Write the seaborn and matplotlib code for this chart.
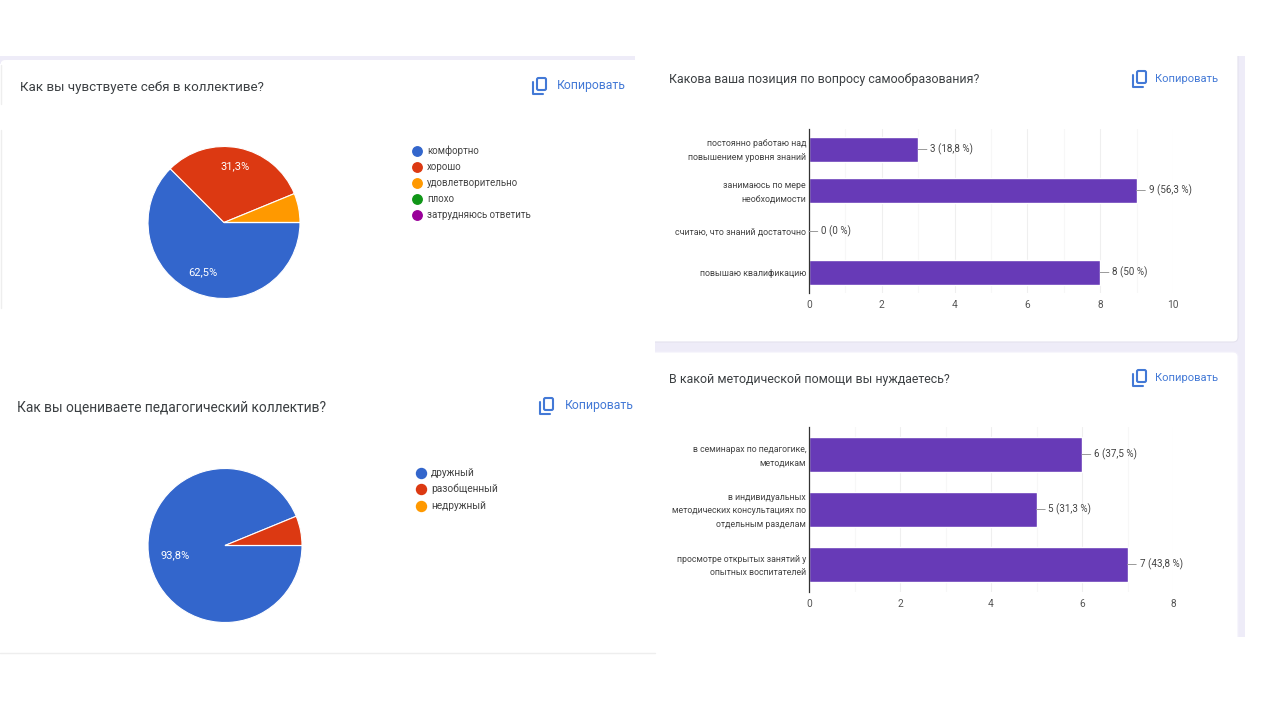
import matplotlib
matplotlib.use('Agg')
import matplotlib.pyplot as plt
from matplotlib.lines import Line2D
from matplotlib.patches import FancyBboxPatch, Rectangle
from matplotlib.transforms import ScaledTranslation
import pandas as pd
import seaborn as sns

W, H = 1280, 720

# данные
q1_title = 'Как вы чувствуете себя в коллективе?'
q1_labels = ['комфортно', 'хорошо', 'удовлетворительно', 'плохо', 'затрудняюсь ответить']
q1_values = [62.5, 31.3, 6.2, 0, 0]
q1_pct = ['62,5%', '31,3%']

q2_title = 'Как вы оцениваете педагогический коллектив?'
q2_labels = ['дружный', 'разобщенный', 'недружный']
q2_values = [93.8, 6.2, 0]
q2_pct = ['93,8%']

q3_title = 'Какова ваша позиция по вопросу самообразования?'
q3_labels = ['постоянно работаю над\nповышением уровня знаний', 'занимаюсь по мере\nнеобходимости',
             'считаю, что знаний достаточно', 'повышаю квалификацию']
q3_values = [3, 9, 0, 8]
q3_text = ['3 (18,8 %)', '9 (56,3 %)', '0 (0 %)', '8 (50 %)']
q3_ticks = [0, 2, 4, 6, 8, 10]

q4_title = 'В какой методической помощи вы нуждаетесь?'
q4_labels = ['в семинарах по педагогике,\nметодикам', 'в индивидуальных\nметодических консультациях по\nотдельным разделам',
             'просмотре открытых занятий у\nопытных воспитателей']
q4_values = [6, 5, 7]
q4_text = ['6 (37,5 %)', '5 (31,3 %)', '7 (43,8 %)']
q4_ticks = [0, 2, 4, 6, 8]

copy_label = 'Копировать'
pie_colors = ['#3366CC', '#DC3912', '#FF9900', '#109618', '#990099']
bar_color = '#673AB7'
band_color = '#EEECF8'
title_color = '#3C4043'
link_color = '#4379D6'

sns.set_theme(style='white')
plt.rcParams['font.family'] = ['Roboto', 'DejaVu Sans']

fig = plt.figure(figsize=(W / 100, H / 100), dpi=100, facecolor='white')

# слой в пикселях для фона и подписей
bg = fig.add_axes([0, 0, 1, 1], zorder=0)
bg.set_xlim(0, W)
bg.set_ylim(H, 0)
bg.axis('off')
top = fig.add_axes([0, 0, 1, 1], zorder=5)
top.set_xlim(0, W)
top.set_ylim(H, 0)
top.axis('off')
top.patch.set_alpha(0)


def px_axes(x0, y0, x1, y1):
    return fig.add_axes([x0 / W, 1 - y1 / H, (x1 - x0) / W, (y1 - y0) / H], zorder=2)


def copy_button(x, y, gap, size):
    # значок и надпись "Копировать"
    top.add_patch(FancyBboxPatch((x + 4, y - 8), 9, 12, boxstyle='round,pad=0,rounding_size=1.5',
                                 fc='white', ec=link_color, lw=1.5))
    top.plot([x, x, x + 10], [y - 4, y + 8, y + 8], color=link_color, lw=1.5)
    top.text(x + gap, y, copy_label, color=link_color, fontsize=size, va='center', ha='left')


def draw_pie(box, values, title, tx, ty, size):
    ax = px_axes(*box)
    ax.pie(values, colors=pie_colors, startangle=0, counterclock=False, radius=1,
           wedgeprops=dict(edgecolor='white', linewidth=0.8))
    ax.set_xlim(-1, 1)
    ax.set_ylim(-1, 1)
    top.text(tx, ty, title, fontsize=size, color=title_color, va='center')


def draw_bars(box, labels, values, texts, ticks, title, tx, ty, label_size):
    ax = px_axes(*box)
    df = pd.DataFrame({'label': labels, 'value': values})
    sns.barplot(data=df, x='value', y='label', color=bar_color, saturation=1, width=0.62, ax=ax)
    ax.set_xlim(ticks[0], ticks[-1])
    ax.set_xlabel('')
    ax.set_ylabel('')
    ax.set_xticks(ticks)
    ax.set_xticks([t + 1 for t in ticks[:-1]], minor=True)
    ax.grid(True, axis='x', which='major', color='#EFEFEF', lw=0.8)
    ax.grid(True, axis='x', which='minor', color='#F7F7F7', lw=0.8)
    ax.set_axisbelow(True)
    for s in ['top', 'right', 'bottom']:
        ax.spines[s].set_visible(False)
    ax.spines['left'].set_color('#333333')
    ax.spines['left'].set_linewidth(0.9)
    ax.tick_params(axis='x', which='both', length=0, labelsize=7.3, labelcolor='#555555', pad=5)
    ax.tick_params(axis='y', length=0, labelsize=label_size, labelcolor='#444444', pad=2)
    up = ScaledTranslation(0, 2 / 100, fig.dpi_scale_trans)
    for lab in ax.get_yticklabels():
        lab.set_linespacing(1.7)
        if '\n' in lab.get_text():
            lab.set_transform(lab.get_transform() + up)
    for i, (v, t) in enumerate(zip(values, texts)):
        ax.annotate(t, xy=(v, i), xytext=(12, 0), textcoords='offset pixels', fontsize=7.1, color='#444444',
                    va='center', ha='left', annotation_clip=False,
                    arrowprops=dict(arrowstyle='-', color='#999999', lw=0.7, shrinkA=0, shrinkB=0))
    top.text(tx, ty, title, fontsize=8.95, color=title_color, va='center')


def dot_legend(labels, x, y, step, size, font):
    for i, lab in enumerate(labels):
        top.add_line(Line2D([x], [y + i * step], marker='o', ms=size, color=pie_colors[i], ls=''))
        top.text(x + 10, y + i * step, lab, fontsize=font, color='#444444', va='center')


# фон карточек
bg.add_patch(Rectangle((0, 56), 635, 8, color=band_color, lw=0))
bg.add_patch(FancyBboxPatch((0.5, 60), 640, 50, boxstyle='round,pad=0,rounding_size=5', fc='white', ec='none'))
bg.add_patch(Rectangle((1238, 56), 7, 581, color=band_color, lw=0))
bg.add_patch(Rectangle((655, 340), 590, 14, color=band_color, lw=0))
bg.add_patch(FancyBboxPatch((645, -40), 593, 382, boxstyle='round,pad=0,rounding_size=5', fc='white', ec='#E4E2EE', lw=0.8))
bg.add_patch(FancyBboxPatch((645, 352), 593, 420, boxstyle='round,pad=0,rounding_size=5', fc='white', ec='#F2F0FA', lw=0.8))
# закрываем лишнее слева, сверху и снизу
bg.add_patch(Rectangle((636, 0), 19, 720, color='white', lw=0, zorder=3))
bg.add_patch(Rectangle((655, 0), 600, 56, color='white', lw=0, zorder=3))
bg.add_patch(Rectangle((1236, 637), 20, 83, color='white', lw=0, zorder=3))
bg.plot([0.5, 0.5], [65, 104], color='#EEEEEE', lw=1, zorder=4)
bg.plot([0.5, 0.5], [130, 308], color='#EEEEEE', lw=1, zorder=4)
bg.plot([0, 655], [652.5, 652.5], color='#EEEEEE', lw=1, zorder=4)

# круговые
draw_pie((148, 146.5, 300, 298.5), q1_values, q1_title, 20, 87, 9.6)
copy_button(533, 86, 24, 8.8)
top.text(235, 166, q1_pct[1], color='white', fontsize=8, ha='center', va='center')
top.text(203, 272, q1_pct[0], color='white', fontsize=8, ha='center', va='center')
dot_legend(q1_labels, 417, 151, 16, 6.8, 7.0)

draw_pie((148, 468, 302, 623), q2_values, q2_title, 17, 407, 9.9)
copy_button(540, 406, 25, 8.8)
top.text(175, 555, q2_pct[0], color='white', fontsize=8, ha='center', va='center')
dot_legend(q2_labels, 421, 472.5, 16.7, 7.2, 7.25)

# столбчатые
draw_bars((809, 129, 1173, 293), q3_labels, q3_values, q3_text, q3_ticks, q3_title, 669, 80, 6.4)
copy_button(1133, 79, 22, 8)
draw_bars((809, 427, 1173, 592), q4_labels, q4_values, q4_text, q4_ticks, q4_title, 669, 379, 6.3)
copy_button(1133, 378, 22, 8)

fig.savefig('out.png', dpi=100, facecolor='white')
